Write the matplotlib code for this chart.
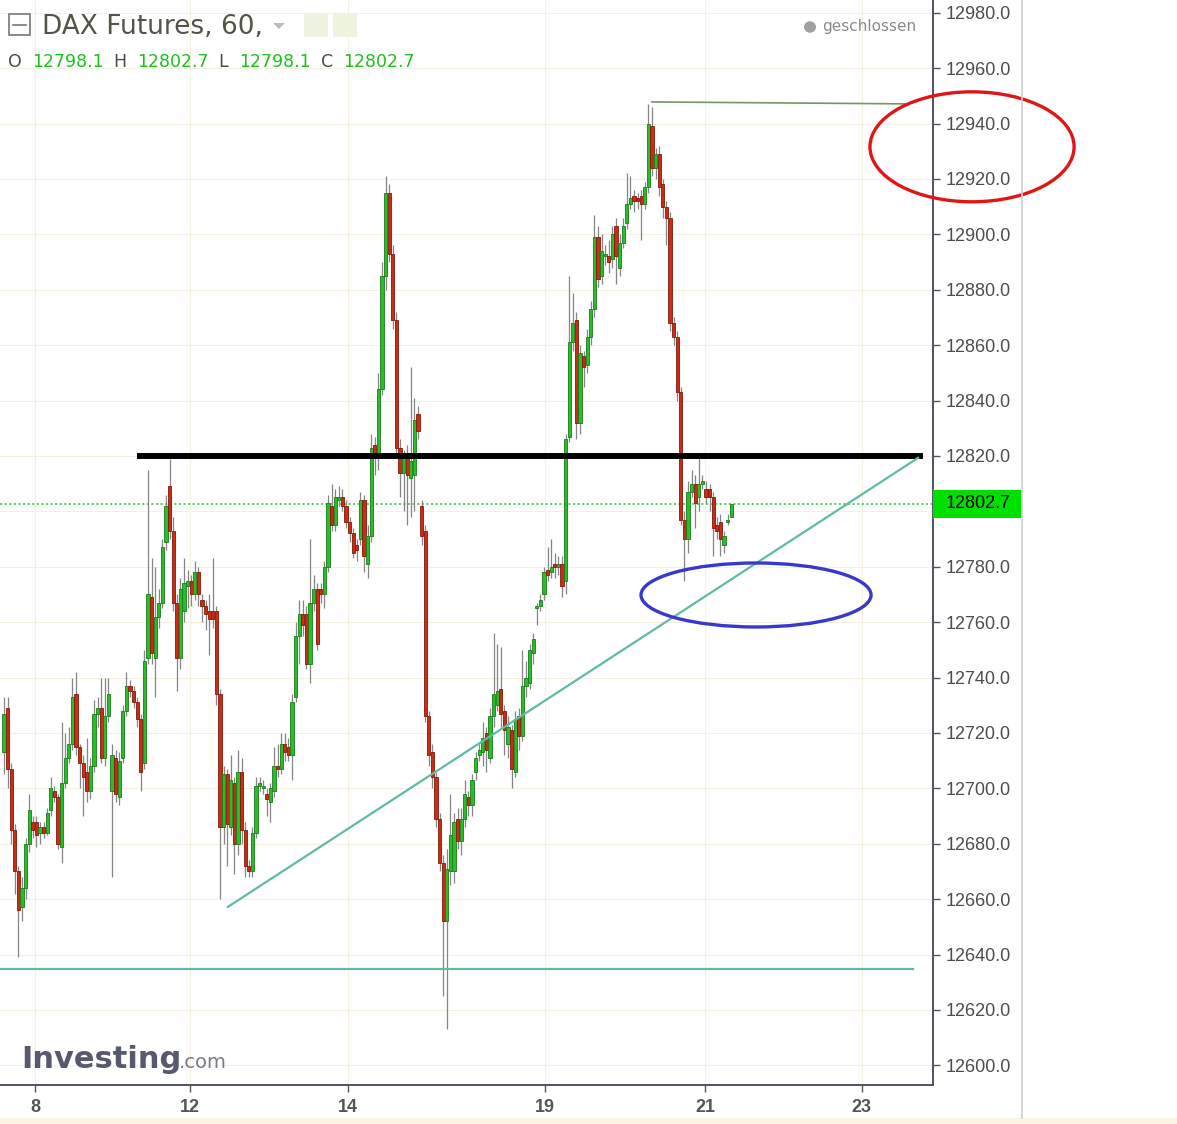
import numpy as np
import matplotlib
matplotlib.use("Agg")
import matplotlib.pyplot as plt
from matplotlib.patches import Ellipse, Rectangle, Circle, Polygon
from matplotlib.transforms import blended_transform_factory

# hourly DAX futures candles
opens = [
    12713, 12729, 12707, 12685, 12670, 12657, 12664, 12680, 12688, 12688, 12684, 12686, 12684, 12692,
    12699, 12697, 12679, 12702, 12711, 12716, 12734, 12715, 12709, 12706, 12699, 12708, 12727, 12729,
    12711, 12726, 12699, 12711, 12697, 12711, 12728, 12737, 12735, 12731, 12725, 12709, 12747, 12769,
    12747, 12762, 12767, 12789, 12809, 12793, 12767, 12747, 12764, 12773, 12775, 12770, 12778, 12768,
    12766, 12764, 12764, 12764, 12734, 12686, 12705,
    12686, 12702, 12680, 12706, 12685, 12672, 12670, 12684, 12701, 12700, 12698, 12695, 12699, 12708,
    12707, 12716, 12715, 12712, 12733, 12755, 12763, 12763, 12745, 12767, 12772, 12772, 12770, 12780,
    12802, 12795, 12804,
    12805, 12802, 12796, 12792, 12788, 12790, 12804, 12781, 12791, 12824, 12820, 12844, 12885, 12915,
    12893, 12869, 12823, 12814, 12821, 12812, 12813, 12835,
    12802, 12793, 12726, 12713, 12704, 12689, 12673, 12652, 12670, 12670, 12689, 12681, 12689, 12697,
    12694, 12706, 12712, 12713, 12720, 12711, 12726, 12730, 12736, 12728, 12716, 12721, 12706, 12726,
    12719, 12737, 12738, 12749,
    12765, 12766, 12770, 12779, 12778, 12781, 12780, 12781, 12775, 12827, 12861, 12869, 12832, 12856,
    12853, 12863, 12873, 12899, 12885, 12892, 12892, 12891, 12903, 12888, 12897, 12904, 12911, 12914,
    12913, 12914, 12911, 12917, 12939, 12924, 12929, 12918, 12910, 12906, 12868, 12863, 12843, 12797,
    12790, 12807, 12810, 12805, 12810, 12808, 12808, 12805, 12795, 12796, 12788, 12796, 12798.1,
]
highs = [
    12733, 12733, 12709, 12687, 12672, 12668, 12682, 12698, 12690, 12690, 12688, 12688, 12693, 12704,
    12701, 12698, 12724, 12720, 12722, 12740, 12742, 12716, 12712, 12718, 12711, 12732, 12733, 12740,
    12740, 12740, 12716, 12714, 12713, 12730, 12742, 12739, 12737, 12733, 12727, 12750, 12815, 12783,
    12780, 12772, 12790, 12806, 12819, 12798, 12770, 12776, 12783, 12779, 12777, 12782, 12780, 12770,
    12768, 12770, 12783, 12766, 12736, 12708, 12707,
    12712, 12704, 12714, 12711, 12688, 12674, 12686, 12704, 12704, 12703, 12700, 12702, 12715, 12716,
    12720, 12720, 12718, 12734, 12760, 12768, 12768, 12766, 12790, 12777, 12774, 12774, 12782, 12806,
    12810, 12808, 12809,
    12808, 12804, 12798, 12794, 12790, 12807, 12806, 12795, 12828, 12827, 12850, 12890, 12921, 12918,
    12896, 12872, 12826, 12822, 12824, 12852, 12841, 12838,
    12804, 12795, 12728, 12716, 12706, 12691, 12676, 12678, 12698, 12691, 12693, 12693, 12703, 12699,
    12705, 12713, 12716, 12724, 12722, 12729, 12756, 12752, 12751, 12730, 12726, 12723, 12728, 12729,
    12750, 12746, 12752, 12756,
    12767, 12770, 12780, 12787, 12790, 12785, 12784, 12784, 12828, 12885, 12879, 12872, 12860, 12858,
    12866, 12876, 12907, 12903, 12900, 12896, 12898, 12903, 12906, 12900, 12906, 12922, 12921, 12916,
    12915, 12916, 12919, 12947, 12946, 12931, 12932, 12920, 12912, 12908, 12870, 12865, 12845, 12800,
    12811, 12815, 12813, 12820, 12813, 12811, 12810, 12807, 12798, 12799, 12793, 12799, 12802.7,
]
lows = [
    12705, 12700, 12680, 12662, 12639, 12652, 12660, 12677, 12682, 12679, 12680, 12682, 12683, 12690,
    12695, 12678, 12673, 12700, 12709, 12714, 12712, 12700, 12690, 12695, 12696, 12706, 12722, 12709,
    12708, 12724, 12668, 12695, 12694, 12709, 12726, 12733, 12729, 12722, 12699, 12707, 12745, 12745,
    12733, 12758, 12765, 12786, 12790, 12764, 12735, 12743, 12760, 12765, 12766, 12768, 12766, 12760,
    12757, 12748, 12758, 12730, 12660, 12680, 12672,
    12683, 12669, 12676, 12680, 12668, 12668, 12668, 12682, 12699, 12698, 12690, 12688, 12697, 12704,
    12705, 12710, 12710, 12703, 12731, 12745, 12755, 12743, 12738, 12764, 12750, 12767, 12765, 12778,
    12793, 12793, 12802,
    12800, 12794, 12789, 12783, 12782, 12788, 12778, 12776, 12789, 12813, 12815, 12842, 12880, 12890,
    12866, 12820, 12805, 12800, 12795, 12798, 12800, 12826,
    12788, 12724, 12708, 12700, 12686, 12670, 12625, 12613, 12665, 12666, 12678, 12676, 12686, 12690,
    12690, 12703, 12710, 12708, 12706, 12709, 12722, 12728, 12722, 12712, 12711, 12700, 12704, 12714,
    12717, 12733, 12736, 12745,
    12759, 12764, 12768, 12775, 12776, 12776, 12777, 12769, 12770, 12825, 12858, 12826, 12828, 12845,
    12850, 12860, 12870, 12881, 12882, 12889, 12886, 12888, 12882, 12885, 12895, 12902, 12909, 12908,
    12909, 12898, 12909, 12915, 12921, 12920, 12914, 12906, 12896, 12865, 12860, 12840, 12795, 12775,
    12785, 12805, 12794, 12800, 12808, 12803, 12800, 12784, 12790, 12784, 12785, 12795, 12798.1,
]
closes = [
    12727, 12707, 12685, 12670, 12656, 12664, 12680, 12692, 12685, 12683, 12686, 12684, 12691, 12700,
    12697, 12680, 12702, 12711, 12716, 12733, 12715, 12709, 12704, 12699, 12708, 12727, 12729, 12711,
    12726, 12734, 12712, 12698, 12710, 12728, 12737, 12735, 12731, 12725, 12706, 12746, 12770, 12749,
    12762, 12767, 12787, 12802, 12793, 12767, 12747, 12772, 12774, 12775, 12770, 12778, 12770, 12766,
    12763, 12761, 12761, 12734, 12686, 12705, 12687,
    12703, 12680, 12706, 12685, 12672, 12670, 12684, 12701, 12702, 12701, 12696, 12700, 12708, 12707,
    12716, 12713, 12712, 12731, 12755, 12763, 12759, 12745, 12767, 12772, 12752, 12770, 12780, 12803,
    12795, 12805, 12805,
    12802, 12796, 12792, 12785, 12786, 12804, 12784, 12791, 12823, 12820, 12844, 12885, 12915, 12893,
    12869, 12823, 12814, 12820, 12813, 12818, 12833, 12829,
    12791, 12726, 12712, 12704, 12689, 12673, 12652, 12671, 12683, 12688, 12681, 12689, 12698, 12694,
    12703, 12711, 12714, 12718, 12714, 12726, 12734, 12735, 12727, 12721, 12722, 12707, 12725, 12719,
    12737, 12740, 12750, 12754,
    12766, 12768, 12778, 12777, 12780, 12780, 12781, 12773, 12826, 12861, 12868, 12832, 12857, 12852,
    12863, 12873, 12899, 12884, 12894, 12893, 12890, 12900, 12892, 12897, 12903, 12911, 12913, 12912,
    12912, 12911, 12917, 12940, 12924, 12929, 12917, 12910, 12906, 12868, 12863, 12843, 12797, 12790,
    12807, 12810, 12803, 12810, 12811, 12805, 12805, 12794, 12793, 12790, 12791, 12797, 12802.7,
]

# date ticks (bar index) and labels
tick_pos = [8.6, 51.7, 95.6, 150.3, 194.7, 238.3]
tick_labels = ["8", "12", "14", "19", "21", "23"]

# drawn annotations: (bar index, price)
resistance = ([37.8, 254.4], [12820, 12820])
trend_line = ([62.2, 253.9], [12657.2, 12819.3])
support = ([-1.1, 252.5], [12634.8, 12634.8])
top_line = ([180, 250.3], [12947.8, 12947.1])
red_ellipse = (268.9, 12931.6, 56.7, 39.7)
blue_ellipse = (208.9, 12769.8, 63.9, 23.1)

W, H = 1177, 1124
def fx(x):
    return x / W
def fy(y):
    return 1 - y / H

o = np.array(opens); h = np.array(highs); l = np.array(lows); c = np.array(closes)
t = np.arange(len(o))
up = c >= o

fig = plt.figure(figsize=(W / 100, H / 100), dpi=100)
fig.patch.set_facecolor("white")
ax = fig.add_axes([0, fy(1085), fx(933), 1085 / H])
ax.set_facecolor("white")

ax.set_xlim(-1.11, 258.06)
ax.set_ylim(12592.9, 12984.6)

yt = np.arange(12600, 12981, 20)
ax.set_yticks(yt)
# the 12800 label sits under the last-price box
ax.set_yticklabels(["" if v == 12800 else "%.1f" % v for v in yt])
ax.set_xticks(tick_pos)
ax.set_xticklabels(tick_labels)
ax.yaxis.tick_right()
ax.grid(True, color="#f5f0df", lw=0.8, zorder=0)
ax.set_axisbelow(True)

for s in ["top", "left"]:
    ax.spines[s].set_visible(False)
for s in ["bottom", "right"]:
    ax.spines[s].set_color("#4e5266")
    ax.spines[s].set_linewidth(1.4)

ax.tick_params(axis="y", length=5, width=1, color="#555", pad=4,
               labelsize=13, labelcolor="#4d4d4d")
ax.tick_params(axis="x", length=5, width=1, color="#555", pad=5,
               labelsize=13, labelcolor="#555")
for lab in ax.get_yticklabels():
    lab.set_fontfamily("Liberation Sans")
for lab in ax.get_xticklabels():
    lab.set_fontfamily("Liberation Sans")
    lab.set_fontweight("bold")

# candles
ax.vlines(t, l, h, color="#858585", lw=0.9, zorder=2)
body = np.maximum(np.abs(c - o), 0.8)
ax.bar(t, body, bottom=np.minimum(o, c), width=0.9,
       color=np.where(up, "#26c026", "#cf2a12"),
       edgecolor=np.where(up, "#1b7a1b", "#7d1a0c"), linewidth=0.6, zorder=3)

# drawings
ax.plot(*resistance, color="black", lw=4.3, zorder=4)
ax.plot(*trend_line, color="#62b9a6", lw=1.6, zorder=4)
ax.plot(*support, color="#62b9a6", lw=1.6, zorder=4)
ax.plot(*top_line, color="#6d9c5c", lw=1.2, zorder=4)
ax.axhline(c[-1], color="#33cc33", lw=1.1, ls=(0, (1.5, 1.5)), zorder=1)

for (cx, cy, ew, eh), col in [(red_ellipse, "#e01515"), (blue_ellipse, "#3838cc")]:
    ax.add_patch(Ellipse((cx, cy), ew, eh, fill=False, ec=col, lw=2.4,
                         clip_on=False, zorder=6))

# last price box
bt = blended_transform_factory(ax.transAxes, ax.transData)
ax.add_patch(Rectangle((1.0, c[-1] - 5.05), 89 / 933, 10.1, transform=bt,
                       fc="#00e000", ec="none", clip_on=False, zorder=10))
ax.text(1.0 + 13 / 933, c[-1], "%.1f" % c[-1], transform=bt, va="center",
        ha="left", fontsize=13, family="Liberation Sans", color="black",
        zorder=11, clip_on=False)

# header
fig.patches.append(Rectangle((fx(9), fy(35)), 21 / W, 21 / H, fill=False,
                             ec="#777", lw=1.2, transform=fig.transFigure))
fig.lines.append(plt.Line2D([fx(13), fx(26)], [fy(25), fy(25)], color="#777",
                            lw=1.2, transform=fig.transFigure))
fig.text(fx(42), fy(27), "DAX Futures, 60,", fontsize=19, color="#545446",
         va="center", ha="left")
fig.patches.append(Polygon([(fx(273), fy(23)), (fx(285), fy(23)), (fx(279), fy(29))],
                           closed=True, fc="#bdbdbd", ec="none", transform=fig.transFigure))
for x0 in [304, 333]:
    fig.patches.append(Rectangle((fx(x0), fy(37)), 24 / W, 24 / H, fc="#eef4df",
                                 ec="none", transform=fig.transFigure))

ohlc = [("O", 8), ("12798.1", 32), ("H", 113), ("12802.7", 137),
        ("L", 218), ("12798.1", 239), ("C", 321), ("12802.7", 343)]
for i, (txt, x0) in enumerate(ohlc):
    fig.text(fx(x0), fy(62), txt, fontsize=12.5, va="center", ha="left",
             color="#4a4a4a" if i % 2 == 0 else "#1ec01e")

fig.patches.append(Circle((fx(810), fy(27)), 6 / W, fc="#a0a0a0", ec="none",
                          transform=fig.transFigure))
fig.text(fx(822), fy(26), "geschlossen", fontsize=11, color="#8a8a8a",
         va="center", ha="left")

# watermark
fig.text(fx(21), fy(1068), "Investing", fontsize=22, fontweight="bold",
         color="#575a6e", va="baseline", ha="left")
fig.text(fx(179), fy(1068), ".com", fontsize=14, color="#7a7a86",
         va="baseline", ha="left")

# panel edges
fig.lines.append(plt.Line2D([fx(1022), fx(1022)], [fy(0), fy(1118)], color="#cfcfcf",
                            lw=1.2, transform=fig.transFigure))
fig.patches.append(Rectangle((0, 0), 1, 6 / H, fc="#fcf5e6", ec="none",
                             transform=fig.transFigure))

fig.savefig("out.png", dpi=100)
